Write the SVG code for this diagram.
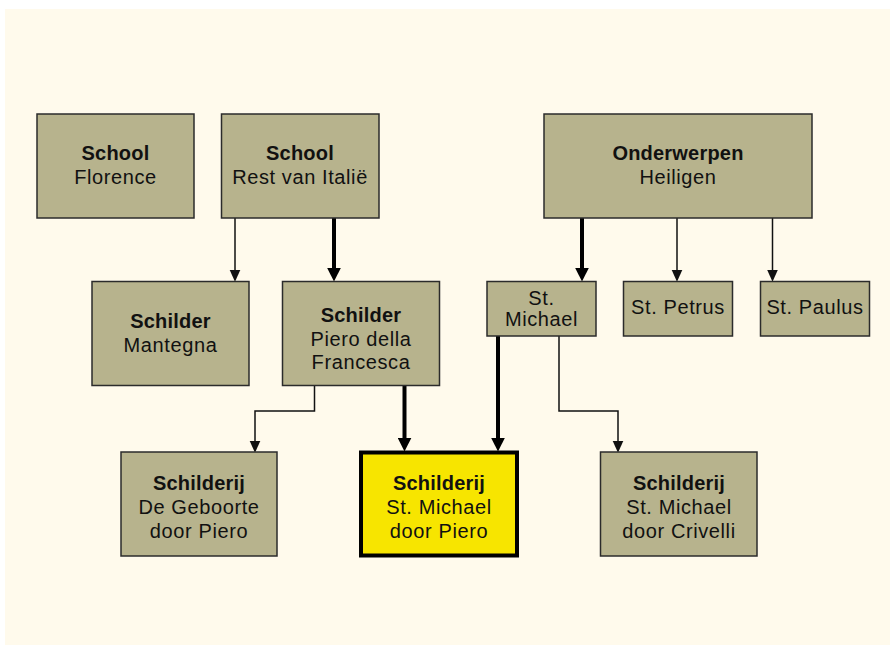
<svg xmlns="http://www.w3.org/2000/svg" width="890" height="645" viewBox="0 0 890 645">
<style>
.box{fill:#b7b38d;stroke:#2b2b2b;stroke-width:1.5}
.hl{fill:#f7e500;stroke:#000;stroke-width:4}
text{font-family:"Liberation Sans",Arial,Helvetica,sans-serif;font-size:20px;fill:#111;text-anchor:middle;letter-spacing:0.6px}
.b{font-weight:bold;letter-spacing:0.2px}
.thin{fill:none;stroke:#111;stroke-width:1.5}
.thick{fill:none;stroke:#000;stroke-width:4}
</style>
<defs>
<marker id="at" markerUnits="userSpaceOnUse" markerWidth="12" markerHeight="12" refX="4" refY="5" orient="auto" viewBox="0 0 11 10">
<path d="M0,0 L11,5 L0,10 z" fill="#111"/>
</marker>
<marker id="ak" markerUnits="userSpaceOnUse" markerWidth="14" markerHeight="14" refX="5" refY="6.5" orient="auto" viewBox="0 0 13 13">
<path d="M0,0 L13,6.5 L0,13 z" fill="#000"/>
</marker>
</defs>
<rect x="5" y="9" width="885" height="636" fill="#fffaec"/>
<g id="connectors">
<path class="thin" d="M235,218 V274" marker-end="url(#at)"/>
<path class="thick" d="M334,218 V273" marker-end="url(#ak)"/>
<path class="thick" d="M582,218 V273" marker-end="url(#ak)"/>
<path class="thin" d="M677,218 V274" marker-end="url(#at)"/>
<path class="thin" d="M772.5,218 V274" marker-end="url(#at)"/>
<path class="thin" d="M314.5,385.5 V411 H255 V445" marker-end="url(#at)"/>
<path class="thick" d="M404.5,385.5 V443" marker-end="url(#ak)"/>
<path class="thick" d="M498,336 V443" marker-end="url(#ak)"/>
<path class="thin" d="M559,336 V411 H618 V445" marker-end="url(#at)"/>
</g>
<g id="school-florence">
<rect class="box" x="37" y="114" width="157" height="104"/>
<text class="b" x="115.5" y="160">School</text>
<text x="115.5" y="184">Florence</text>
</g>
<g id="school-rest">
<rect class="box" x="221.5" y="114" width="157.5" height="104"/>
<text class="b" x="300" y="160">School</text>
<text x="300" y="184">Rest van Italië</text>
</g>
<g id="onderwerpen">
<rect class="box" x="544" y="114" width="268" height="104"/>
<text class="b" x="678" y="160">Onderwerpen</text>
<text x="678" y="184">Heiligen</text>
</g>
<g id="schilder-mantegna">
<rect class="box" x="92" y="281.5" width="157" height="104"/>
<text class="b" x="170.5" y="328">Schilder</text>
<text x="170.5" y="352">Mantegna</text>
</g>
<g id="schilder-piero">
<rect class="box" x="282.5" y="281.5" width="157" height="104"/>
<text class="b" x="361" y="322">Schilder</text>
<text x="361" y="345.5">Piero della</text>
<text x="361" y="369">Francesca</text>
</g>
<g id="st-michael">
<rect class="box" x="487" y="281.5" width="109" height="54.5"/>
<text x="541.5" y="305">St.</text>
<text x="541.5" y="326">Michael</text>
</g>
<g id="st-petrus">
<rect class="box" x="623.5" y="281.5" width="109" height="54.5"/>
<text x="678" y="314">St. Petrus</text>
</g>
<g id="st-paulus">
<rect class="box" x="760.5" y="281.5" width="109" height="54.5"/>
<text x="815" y="314">St. Paulus</text>
</g>
<g id="schilderij-geboorte">
<rect class="box" x="121" y="452" width="156" height="104"/>
<text class="b" x="199" y="490">Schilderij</text>
<text x="199" y="514">De Geboorte</text>
<text x="199" y="537.5">door Piero</text>
</g>
<g id="schilderij-michael-piero">
<rect class="hl" x="361" y="452.5" width="156" height="103"/>
<text class="b" x="439" y="490">Schilderij</text>
<text x="439" y="514">St. Michael</text>
<text x="439" y="537.5">door Piero</text>
</g>
<g id="schilderij-michael-crivelli">
<rect class="box" x="600.5" y="452" width="156.5" height="104"/>
<text class="b" x="679" y="490">Schilderij</text>
<text x="679" y="514">St. Michael</text>
<text x="679" y="537.5">door Crivelli</text>
</g>
</svg>
